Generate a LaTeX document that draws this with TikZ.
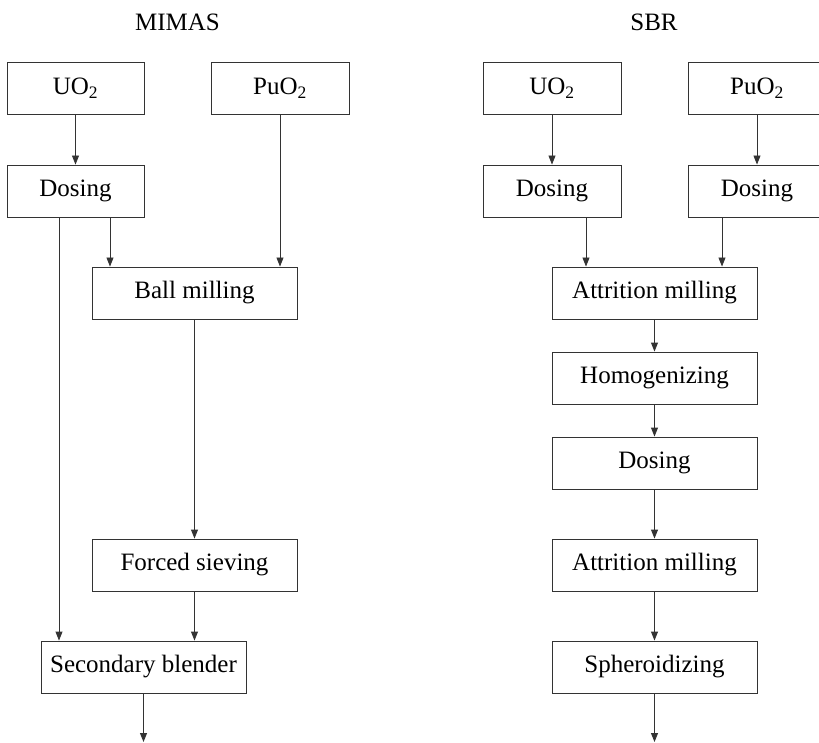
\documentclass[tikz,border=0pt]{standalone}
\usepackage{fontspec}
\setmainfont{Liberation Serif}
\usetikzlibrary{arrows.meta}

\begin{document}
\begin{tikzpicture}[x=1pt,y=-1pt,
    box/.style={draw=black!80, line width=0.9pt, minimum height=52pt,
        inner sep=0pt, font=\fontsize{25}{30}\selectfont},
    flow/.style={draw=black!80, line width=0.9pt,
        -{Triangle[length=9pt,width=7pt]}},
    heading/.style={font=\fontsize{25}{30}\selectfont}]
    \useasboundingbox (0,0) rectangle (819,743);
    \clip (0,0) rectangle (819,743);

    % Left route: MIMAS
    \node[heading] (mimas) at (177.5,22) {MIMAS};
    \node[box, minimum width=137pt] (muo)   at (75.5,88.5)  {UO\textsubscript{2}};
    \node[box, minimum width=138pt] (mpu)   at (280,88.5)   {PuO\textsubscript{2}};
    \node[box, minimum width=137pt] (mdos)  at (75.5,191)   {Dosing};
    \node[box, minimum width=205pt] (mball) at (194.5,293)  {Ball milling};
    \node[box, minimum width=205pt] (msiev) at (194.5,565)  {Forced sieving};
    \node[box, minimum width=205pt] (mblend) at (143.5,667) {Secondary blender};
    \coordinate (mout) at (143.5,742);

    % Arrows of the MIMAS route
    \draw[flow] (muo) -- (mdos);
    \draw[flow] ([xshift=-16.5pt]mdos.south) -- ([xshift=-16.5pt]mdos.south |- mblend.north);
    \draw[flow] ([xshift=34.5pt]mdos.south) -- ([xshift=34.5pt]mdos.south |- mball.north);
    \draw[flow] (mpu.south) -- (mpu.south |- mball.north);
    \draw[flow] (mball) -- (msiev);
    \draw[flow] (msiev) -- (msiev.south |- mblend.north);
    \draw[flow] (mblend) -- (mout);

    % Right route: SBR
    \node[heading] (sbr) at (654,22) {SBR};
    \node[box, minimum width=138pt] (suo)   at (552,88.5)  {UO\textsubscript{2}};
    \node[box, minimum width=138pt] (spu)   at (757,88.5)  {PuO\textsubscript{2}};
    \node[box, minimum width=138pt] (sdosu) at (552,191)   {Dosing};
    \node[box, minimum width=138pt] (sdosp) at (757,191)   {Dosing};
    \node[box, minimum width=205pt] (satta) at (654.5,293) {Attrition milling};
    \node[box, minimum width=205pt] (shom)  at (654.5,378) {Homogenizing};
    \node[box, minimum width=205pt] (sdos)  at (654.5,463) {Dosing};
    \node[box, minimum width=205pt] (sattb) at (654.5,565) {Attrition milling};
    \node[box, minimum width=205pt] (ssph)  at (654.5,667) {Spheroidizing};
    \coordinate (sout) at (654.5,742);

    % Arrows of the SBR route
    \draw[flow] (suo) -- (sdosu);
    \draw[flow] (spu) -- (sdosp);
    \draw[flow] ([xshift=34pt]sdosu.south) -- ([xshift=34pt]sdosu.south |- satta.north);
    \draw[flow] ([xshift=-35pt]sdosp.south) -- ([xshift=-35pt]sdosp.south |- satta.north);
    \draw[flow] (satta) -- (shom);
    \draw[flow] (shom) -- (sdos);
    \draw[flow] (sdos) -- (sattb);
    \draw[flow] (sattb) -- (ssph);
    \draw[flow] (ssph) -- (sout);

\end{tikzpicture}
\end{document}
